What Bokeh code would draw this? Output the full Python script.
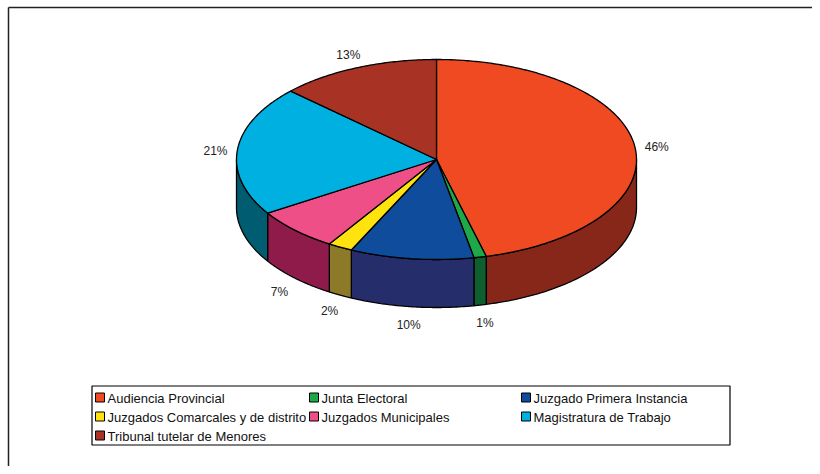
import numpy as np
from bokeh.plotting import figure
from bokeh.models import Range1d
from bokeh.core.properties import value
from bokeh.embed import file_html
from bokeh.resources import INLINE

# ---- data ----
categories = ["Audiencia Provincial", "Junta Electoral", "Juzgado Primera Instancia",
              "Juzgados Comarcales y de distrito", "Juzgados Municipales",
              "Magistratura de Trabajo", "Tribunal tutelar de Menores"]
shares = [46, 1, 10, 2, 7, 21, 13]
top_colors = ["#F04A23", "#1DA84A", "#0F4C9B", "#FFE30F", "#EE4F87", "#00B0E0", "#A83324"]
side_colors = ["#86271A", "#0E5E2E", "#252D6B", "#8C7A28", "#8E1B4A", "#005C70", "#6A2016"]

# ---- geometry (pixel-like data space) ----
W, H = 812, 466
cx, cy, rx, ry, depth = 436.0, 159.0, 200.0, 100.0, 48.0
FONT = value("Liberation Sans")

p = figure(width=W, height=H, output_backend="svg", toolbar_location=None,
           x_range=Range1d(0, W), y_range=Range1d(H, 0),
           min_border=0, outline_line_color=None)
p.axis.visible = False
p.grid.visible = False
p.background_fill_color = "white"
p.border_fill_color = "white"

def ell(theta_deg):
    t = np.radians(theta_deg)
    return cx + rx * np.sin(t), cy - ry * np.cos(t)

total = float(sum(shares))
cum = np.concatenate([[0.0], np.cumsum(shares)]) / total * 360.0

# side faces (front half only: 90..270 deg clockwise from top)
side_xs, side_ys, side_c = [], [], []
for i in range(len(shares)):
    a0, a1 = max(cum[i], 90.0), min(cum[i + 1], 270.0)
    if a1 <= a0:
        continue
    th = np.linspace(a0, a1, 80)
    x, y = ell(th)
    side_xs.append(list(x) + list(x[::-1]))
    side_ys.append(list(y) + list((y + depth)[::-1]))
    side_c.append(side_colors[i])
p.patches(side_xs, side_ys, fill_color=side_c, line_color="black", line_width=1.3)

# top faces
top_xs, top_ys = [], []
for i in range(len(shares)):
    th = np.linspace(cum[i], cum[i + 1], max(4, int(shares[i] * 6)))
    x, y = ell(th)
    top_xs.append([cx] + list(x))
    top_ys.append([cy] + list(y))
p.patches(top_xs, top_ys, fill_color=top_colors, line_color="black", line_width=1.3,
          line_join="round")

# percentage labels
mids = np.radians((cum[:-1] + cum[1:]) / 2.0)
s, c = np.sin(mids), np.cos(mids)
lx = cx + 222 * s
ly = cy - 116 * c + np.where(c < 0, depth, 0.0) + 2
labels = [f"{v}%" for v in shares]
p.text(x=lx, y=ly, text=labels, text_font=FONT, text_font_size="12px",
       text_align="center", text_baseline="middle", text_color="#222222")

# frame lines (left and top)
p.line([8.0, 8.0], [H, 7.0], line_color="#222222", line_width=1.5)
p.line([8.0, W], [7.0, 7.0], line_color="#222222", line_width=1.5)

# legend box
p.quad(left=[91.5], right=[729.5], top=[385.5], bottom=[444.5],
       fill_color=None, line_color="black", line_width=1.2)
col_x = [99.5, 313.5, 525.5]
row_y = [397.0, 416.0, 435.0]
mx, my = [], []
for i in range(len(categories)):
    mx.append(col_x[i % 3])
    my.append(row_y[i // 3])
p.rect(x=mx, y=my, width=9, height=9, fill_color=top_colors, line_color="black",
       line_width=1)
p.text(x=[v + 7.5 for v in mx], y=[v + 0.5 for v in my], text=categories, text_font=FONT,
       text_font_size="13px", text_align="left", text_baseline="middle",
       text_color="#111111")

open("out.html", "w").write(file_html(p, INLINE))
